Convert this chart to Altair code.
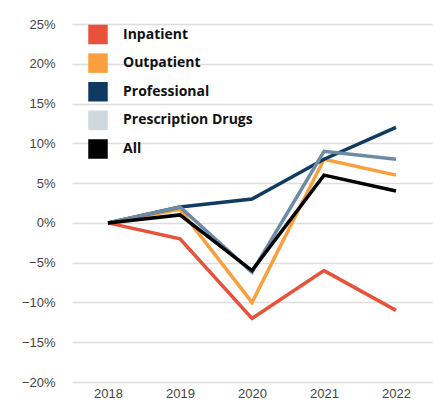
import altair as alt
import pandas as pd

years = ["2018", "2019", "2020", "2021", "2022"]
series = ["Inpatient", "Outpatient", "Professional", "Prescription Drugs", "All"]
inpatient = [0, -2, -12, -6, -11]
outpatient = [0, 1.7, -10, 8, 6]
professional = [0, 2, 3, 8, 12]
prescription = [0, 2, -6.2, 9, 8]
all_vals = [0, 1, -6, 6, 4]
line_colors = ["#e8513b", "#fa9f3e", "#0f3b62", "#6d8ba5", "#000000"]
swatch_colors = ["#e8513b", "#fa9f3e", "#0f3b62", "#cfd7df", "#000000"]
draw_order = [0, 1, 4, 2, 3]
y_ticks = [-20, -15, -10, -5, 0, 5, 10, 15, 20, 25]

vals = [inpatient, outpatient, professional, prescription, all_vals]
rows = []
for i, s in enumerate(series):
    for y, v in zip(years, vals[i]):
        rows.append({"year": y, "series": s, "value": v / 100, "z": draw_order[i]})
df = pd.DataFrame(rows)

leg = pd.DataFrame({"series": series, "swatch": swatch_colors, "idx": list(range(5))})

lines = alt.Chart(df).mark_line(strokeWidth=3.5, strokeCap="butt", strokeJoin="miter").encode(
    x=alt.X("year:O", sort=years, scale=alt.Scale(paddingOuter=0.5),
            axis=alt.Axis(title=None, labelAngle=0, domain=False, ticks=False, labelPadding=5,
                          labelFontSize=13, labelColor="#444444",
                          labelFont="Liberation Sans Narrow, Liberation Sans, sans-serif")),
    y=alt.Y("value:Q", scale=alt.Scale(domain=[-0.2, 0.25], nice=False),
            axis=alt.Axis(title=None, format=".0%", values=[t / 100 for t in y_ticks],
                          domain=False, ticks=False, labelPadding=17, labelFontSize=13,
                          labelColor="#444444", gridColor="#dddddd", gridWidth=1.5,
                          labelFont="Liberation Sans Narrow, Liberation Sans, sans-serif")),
    color=alt.Color("series:N", scale=alt.Scale(domain=series, range=line_colors), legend=None),
    order=alt.Order("z:Q"),
    detail="series:N",
)

leg_y = alt.Y("idx:O", scale=alt.Scale(range=[10.5, 125], padding=0), axis=None)
squares = alt.Chart(leg).mark_square(size=380, opacity=1).encode(
    x=alt.value(26), y=leg_y, color=alt.Color("swatch:N", scale=None)
)
texts = alt.Chart(leg).mark_text(align="left", baseline="middle", font="Open Sans",
                                 fontWeight="bold", fontSize=14, color="#111111").encode(
    x=alt.value(51), y=leg_y, text="series:N"
)

chart = alt.layer(lines, squares, texts).resolve_scale(
    y="independent", color="independent"
).properties(
    width=360, height=358,
    padding={"left": 64, "top": 16, "right": 6, "bottom": 18},
    autosize=alt.AutoSizeParams(type="none"),
).configure_view(stroke=None)

chart.save("out.html", embed_options={"renderer": "svg", "actions": False})
